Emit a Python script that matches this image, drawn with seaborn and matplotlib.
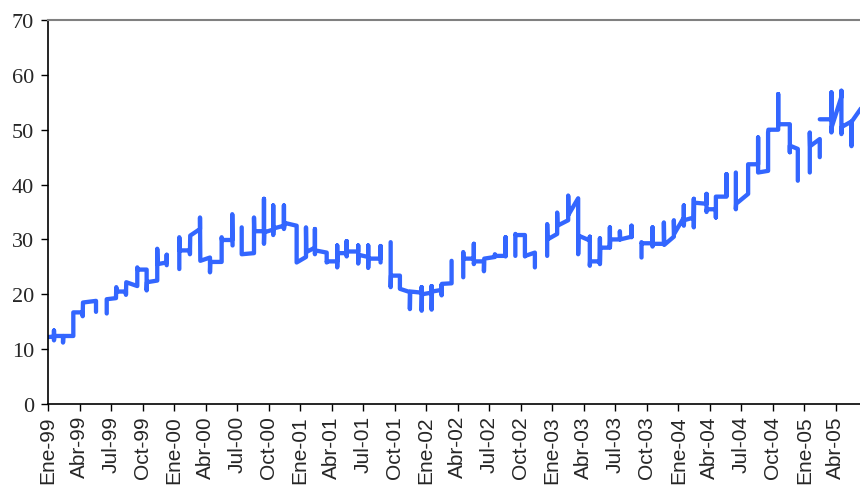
import numpy as np
import pandas as pd
import matplotlib
matplotlib.use("Agg")
import matplotlib.pyplot as plt
import seaborn as sns

# meses desde Ene-99 (NaN = corte de la serie)
mes = [0.0, 0.57, 0.57, 0.57, 0.60, 1.43, 1.43, 1.46, 2.41, 2.41, 3.30, 3.30, 3.33, 4.57, 4.57,
       np.nan,
       5.59, 5.59, 6.47, 6.50, 6.55, 7.42, 7.42, 7.45, 8.50, 8.50, 8.55, 9.39, 9.39, 9.42,
       10.40, 10.40, 10.43, 11.30, 11.30, 11.30,
       np.nan,
       12.50, 12.50, 12.53, 13.51, 13.51, 13.54, 14.47, 14.47, 14.50, 15.42, 15.42, 15.45,
       16.53, 16.53, 16.56, 17.54, 17.54, 17.57,
       np.nan,
       18.44, 18.44, 19.61, 19.61, 19.64, 20.56, 20.56, 20.56, 20.59, 21.44, 21.44, 21.44, 21.47,
       22.46, 22.46, 22.46, 22.55, 23.67, 23.67, 24.56, 24.56, 24.59, 25.41, 25.41, 25.41, 25.44,
       26.53, 26.53, 26.56, 27.53, 27.53, 27.53, 27.56, 28.43, 28.43, 28.43, 28.46,
       29.53, 29.53, 29.53, 29.56, 30.48, 30.48, 30.48, 30.51, 31.66, 31.66, 31.66,
       np.nan,
       32.62, 32.62, 32.65, 33.50, 33.50, 34.45, 34.45, 34.48, 35.57, 35.57, 35.57, 35.60,
       36.52, 36.52, 36.52, 36.55, 37.47, 37.47, 37.47, 37.50, 38.42, 38.42,
       np.nan,
       39.53, 39.53, 39.56, 40.54, 40.54, 40.54, 40.57, 41.50, 41.50, 41.53, 42.54, 42.54, 42.57,
       43.56, 43.56, 43.56,
       np.nan,
       44.49, 44.49, 44.52, 45.40, 45.40, 45.43, 46.35, 46.35,
       np.nan,
       47.52, 47.52, 47.55, 48.47, 48.47, 48.50, 49.52, 49.52, 49.55, 50.47, 50.47, 50.50,
       51.58, 51.58, 51.58, 51.61, 52.54, 52.54, 52.54, 52.57, 53.49, 53.49, 53.49, 53.52,
       54.44, 54.44, 54.47, 55.55, 55.55, 55.55,
       np.nan,
       56.50, 56.50, 56.53, 57.55, 57.55, 57.55, 57.58, 58.63, 58.63, 58.66, 59.58, 59.58, 59.61,
       60.53, 60.53, 60.53, 60.56, 61.48, 61.48, 61.48, 61.51, 62.69, 62.69, 62.69, 62.72,
       63.58, 63.58, 63.58, 64.59, 64.59, 64.59,
       np.nan,
       65.48, 65.48, 65.51, 66.65, 66.65, 67.60, 67.60, 67.60, 68.55, 68.55, 68.58,
       69.51, 69.51, 69.51, 70.62, 70.62, 70.62, 71.38, 71.38,
       np.nan,
       72.52, 72.52, 72.55, 73.47, 73.47,
       np.nan,
       73.47, 74.58, 74.58, 74.58, 74.61, 75.53, 75.53, 75.53, 75.56, 76.49, 76.49, 76.52, 77.40]

valor = [12.2, 12.3, 13.4, 11.6, 12.4, 12.4, 11.2, 12.4, 12.4, 16.7, 16.7, 16.0, 18.5, 18.8, 16.8,
         np.nan,
         16.5, 19.1, 19.3, 21.3, 20.5, 20.5, 19.9, 22.2, 21.5, 24.9, 24.5, 24.5, 20.7, 22.2,
         22.5, 28.3, 25.5, 25.8, 27.2, 25.3,
         np.nan,
         24.6, 30.4, 28.0, 28.0, 27.3, 30.7, 31.9, 34.0, 26.1, 26.7, 24.0, 25.9,
         25.9, 30.4, 29.9, 29.9, 34.6, 28.9,
         np.nan,
         32.2, 27.3, 27.5, 34.0, 31.5, 31.5, 37.4, 29.2, 31.3, 31.8, 36.2, 30.8, 32.0,
         32.5, 36.2, 31.9, 33.0, 32.5, 25.8, 26.8, 32.2, 27.7, 28.5, 31.9, 27.3, 28.0,
         27.6, 25.8, 26.0, 26.0, 28.9, 24.9, 27.5, 27.5, 29.7, 26.9, 27.8,
         27.8, 28.9, 25.6, 27.2, 26.8, 28.9, 24.8, 26.5, 26.5, 28.8, 25.8,
         np.nan,
         29.5, 21.3, 23.4, 23.4, 21.0, 20.4, 17.3, 20.5, 20.3, 21.3, 17.0, 20.0,
         20.3, 21.5, 17.2, 20.5, 20.8, 21.7, 19.8, 21.9, 22.0, 26.1,
         np.nan,
         23.1, 27.7, 26.5, 26.5, 29.2, 25.5, 26.0, 26.0, 24.2, 26.5, 26.8, 27.3, 27.0,
         27.0, 30.4, 26.9,
         np.nan,
         27.0, 31.0, 30.8, 30.8, 26.9, 27.0, 27.6, 24.9,
         np.nan,
         27.0, 32.8, 30.0, 31.0, 34.9, 32.5, 33.5, 38.0, 34.5, 37.5, 27.3, 30.7,
         29.8, 30.5, 25.2, 26.0, 26.0, 30.2, 25.5, 28.5, 28.5, 32.2, 28.6, 30.0,
         30.0, 31.5, 30.0, 30.5, 32.5, 30.4,
         np.nan,
         26.7, 29.5, 29.3, 29.3, 32.2, 28.7, 29.2, 29.2, 33.1, 29.0, 30.5, 33.5, 31.0,
         34.0, 36.2, 32.5, 33.5, 34.0, 37.4, 32.2, 36.7, 36.5, 38.3, 35.0, 35.5,
         35.5, 34.0, 37.8, 37.8, 41.9, 38.0,
         np.nan,
         42.2, 35.5, 36.5, 38.3, 43.7, 43.7, 48.6, 42.2, 42.5, 49.5, 50.0,
         50.0, 56.5, 51.0, 51.0, 45.9, 47.1, 46.5, 40.7,
         np.nan,
         42.2, 49.5, 47.0, 48.3, 45.0,
         np.nan,
         51.9, 51.9, 56.8, 49.5, 50.5, 56.0, 57.1, 49.2, 50.5, 51.5, 47.0, 51.5, 53.9]

etiquetas = ["Ene-99", "Abr-99", "Jul-99", "Oct-99", "Ene-00", "Abr-00", "Jul-00", "Oct-00",
             "Ene-01", "Abr-01", "Jul-01", "Oct-01", "Ene-02", "Abr-02", "Jul-02", "Oct-02",
             "Ene-03", "Abr-03", "Jul-03", "Oct-03", "Ene-04", "Abr-04", "Jul-04", "Oct-04",
             "Ene-05", "Abr-05"]

df = pd.DataFrame({"mes": mes, "valor": valor})
df["tramo"] = df["valor"].isna().cumsum()
df = df.dropna()

sns.set_style("white")
fig = plt.figure(figsize=(8.6, 4.89), dpi=100)
ax = fig.add_axes([48 / 860, 84 / 489, 812 / 860, 384 / 489])

sns.lineplot(data=df, x="mes", y="valor", units="tramo", estimator=None, sort=False,
             color="#3366ff", linewidth=3.1, ax=ax, legend=False,
             solid_capstyle="round", solid_joinstyle="round")

ax.set_xlim(0, 77.3)
ax.set_ylim(0, 70)
ax.set_xticks(np.arange(0, 76, 3))
ax.set_xticklabels(etiquetas, rotation=90, family="Liberation Sans", fontsize=15)
ax.set_yticks(range(0, 71, 10))
ax.set_yticklabels([str(v) for v in range(0, 71, 10)], family="Liberation Serif", fontsize=16)
ax.set_xlabel("")
ax.set_ylabel("")

ax.tick_params(axis="both", direction="out", length=5, width=1, color="black", pad=3)
ax.tick_params(axis="y", pad=5)
ax.xaxis.set_ticks_position("bottom")
ax.yaxis.set_ticks_position("left")
for s in ["left", "bottom"]:
    ax.spines[s].set_color("black")
    ax.spines[s].set_linewidth(1.2)
ax.spines["top"].set_color("#808080")
ax.spines["top"].set_linewidth(1.5)
ax.spines["right"].set_visible(False)

fig.savefig("out.png", dpi=100)
